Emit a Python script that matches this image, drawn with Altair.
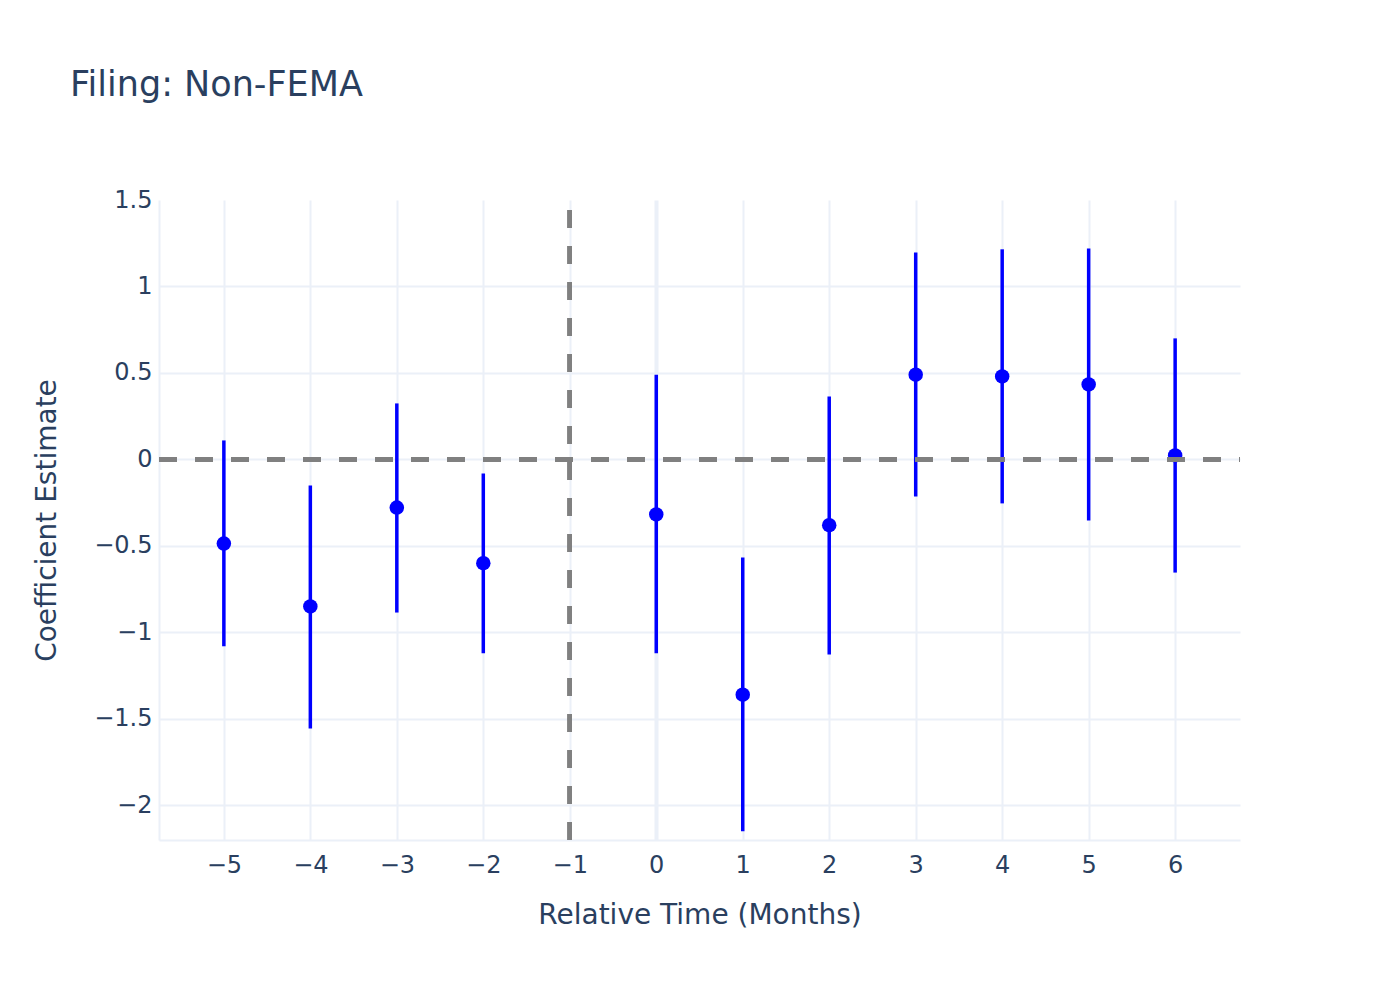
import altair as alt
import pandas as pd

rel_time = [-5, -4, -3, -2, 0, 1, 2, 3, 4, 5, 6]
coef = [-0.486, -0.85, -0.278, -0.60, -0.318, -1.36, -0.38, 0.49, 0.48, 0.434, 0.023]
ci_low = [-1.08, -1.556, -0.885, -1.12, -1.12, -2.15, -1.128, -0.214, -0.254, -0.353, -0.654]
ci_high = [0.11, -0.15, 0.324, -0.081, 0.49, -0.567, 0.364, 1.197, 1.215, 1.22, 0.70]
x_ticks = [-5, -4, -3, -2, -1, 0, 1, 2, 3, 4, 5, 6]
y_ticks = [-2, -1.5, -1, -0.5, 0, 0.5, 1, 1.5]
x_range = [-5.75, 6.75]
y_range = [-2.2, 1.5]

df = pd.DataFrame({"t": rel_time, "coef": coef, "lo": ci_low, "hi": ci_high})

FONT = "DejaVu Sans"
TXT = "#2a3f5f"
GRID = "#EBF0F8"

x_scale = alt.Scale(domain=x_range, nice=False, zero=False)
y_scale = alt.Scale(domain=y_range, nice=False, zero=False)

x_axis = alt.Axis(
    values=x_ticks, format="~g", title="Relative Time (Months)",
    grid=True, gridColor=GRID,
    gridWidth={"condition": {"test": "datum.value == 0", "value": 4}, "value": 2},
    ticks=False, domainColor=GRID, domainWidth=2,
    labelFont=FONT, labelFontSize=24, labelColor=TXT, labelPadding=32,
    labelBaseline="alphabetic", labelFlush=False, labelOverlap=False,
    titleFont=FONT, titleFontSize=28, titleColor=TXT, titleFontWeight="normal",
    titleBaseline="alphabetic", titleX=540.5, titleY=83, titleAlign="center",
)
y_axis = alt.Axis(
    values=y_ticks, format="~g", title="Coefficient Estimate",
    grid=True, gridColor=GRID, gridWidth=2,
    gridOpacity={"condition": {"test": "datum.value == 1.5", "value": 0}, "value": 1},
    ticks=False, domainColor=GRID, domainWidth=2,
    labelFont=FONT, labelFontSize=24, labelColor=TXT, labelPadding=7,
    labelBaseline="middle", labelFlush=False, labelOverlap=False,
    titleFont=FONT, titleFontSize=28, titleColor=TXT, titleFontWeight="normal",
    titleBaseline="alphabetic", titleX=-104, titleY=320, titleAngle=270, titleAlign="center",
)

base = alt.Chart(df)

bars = base.mark_rule(color="#0000FF", strokeWidth=3.5).encode(
    x=alt.X("t:Q", scale=x_scale, axis=x_axis),
    y=alt.Y("lo:Q", scale=y_scale, axis=y_axis),
    y2="hi:Q",
)
pts = base.mark_circle(color="#0000FF", opacity=1, size=210).encode(
    x=alt.X("t:Q", scale=x_scale),
    y=alt.Y("coef:Q", scale=y_scale),
)
hline = alt.Chart(df).mark_rule(color="#808080", strokeWidth=4, strokeDash=[18, 18]).encode(
    x=alt.datum(x_range[0], scale=x_scale),
    x2=alt.datum(x_range[1]),
    y=alt.datum(0, scale=y_scale),
)
vline = alt.Chart(df).mark_rule(color="#808080", strokeWidth=4, strokeDash=[18, 18]).encode(
    x=alt.datum(-1, scale=x_scale),
    y=alt.datum(y_range[0], scale=y_scale),
    y2=alt.datum(y_range[1]),
)

chart = alt.layer(bars, pts, hline, vline).properties(
    width=1081, height=640,
    autosize=alt.AutoSizeParams(type="none"),
    padding={"left": 151, "top": 192, "right": 152, "bottom": 152},
    title=alt.TitleParams(
        "Filing: Non-FEMA", anchor="start", frame="group", dx=-89,
        font=FONT, fontSize=35, fontWeight="normal", color=TXT,
        baseline="alphabetic", offset=57,
    ),
    background="white",
).configure_view(stroke=None)

chart.save("out.html", embed_options={"renderer": "svg", "actions": False})
